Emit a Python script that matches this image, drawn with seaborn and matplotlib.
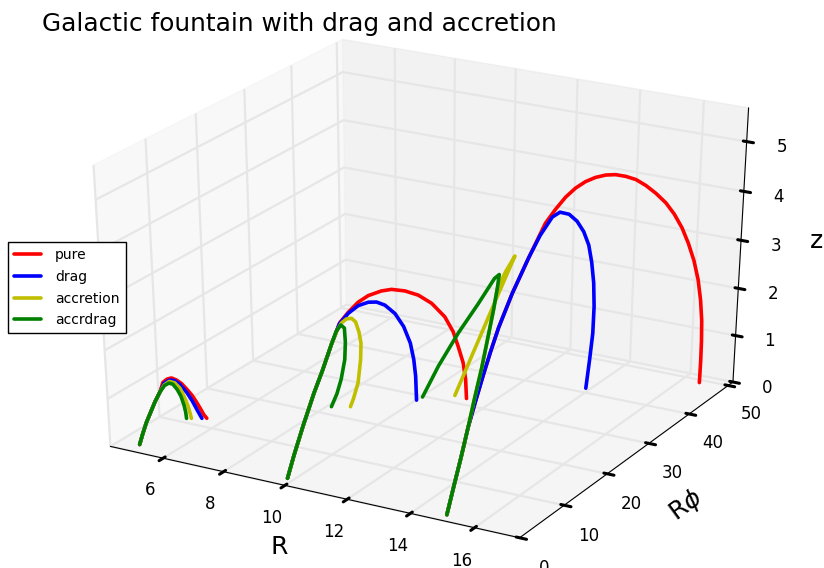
import matplotlib
matplotlib.use("Agg")
import matplotlib.pyplot as plt
import seaborn as sns
import pandas as pd
from mpl_toolkits.mplot3d import Axes3D  # noqa: F401

# ---------------- data (R [kpc], R*phi [kpc], z [kpc]) ----------------
models = ["pure", "drag", "accretion", "accrdrag"]
model_colors = {"pure": (1.0, 0.0, 0.0), "drag": (0.0, 0.0, 1.0),
                "accretion": (0.75, 0.75, 0.0), "accrdrag": (0.0, 0.5, 0.0)}

# launch radius ~5 kpc
rise_05 = [(5.23, 0.00, 0.18), (5.16, 1.10, 0.32), (5.10, 2.29, 0.48), (5.07, 3.33, 0.61),
           (5.04, 4.55, 0.77), (5.04, 5.63, 0.91)]
pure_05 = [(5.00, 6.53, 1.05), (5.07, 6.99, 1.10), (5.15, 7.38, 1.11), (5.24, 7.85, 1.05),
           (5.31, 8.41, 0.95), (5.36, 9.09, 0.80), (5.41, 9.82, 0.63), (5.43, 10.52, 0.45),
           (5.44, 11.24, 0.26), (5.44, 11.89, 0.09), (5.47, 12.26, 0.00)]
drag_05 = [(5.04, 6.53, 1.04), (5.13, 7.12, 1.08), (5.22, 7.58, 1.05), (5.29, 8.15, 0.95),
           (5.35, 9.16, 0.72), (5.36, 10.10, 0.49), (5.35, 11.13, 0.22), (5.35, 11.97, 0.00)]
accr_05 = [(5.06, 6.39, 1.01), (5.14, 6.97, 1.06), (5.23, 7.51, 1.01), (5.28, 8.23, 0.86),
           (5.26, 9.10, 0.63), (5.21, 10.09, 0.36), (5.15, 10.77, 0.17), (5.09, 11.38, 0.00)]
accrdrag_05 = [(5.07, 6.41, 1.00), (5.14, 6.90, 1.03), (5.20, 7.31, 0.99), (5.23, 7.97, 0.84),
               (5.21, 8.76, 0.65), (5.14, 9.71, 0.39), (5.06, 10.45, 0.19), (4.97, 11.10, 0.00)]

# launch radius ~10 kpc
rise_10 = [(10.09, 0.00, 0.16), (9.99, 2.08, 0.49), (9.88, 4.79, 0.91), (9.78, 7.81, 1.38),
           (9.74, 9.97, 1.72), (9.67, 12.39, 2.10)]
pure_10 = [(9.66, 14.30, 2.43), (9.77, 15.38, 2.59), (9.92, 16.54, 2.75), (10.10, 17.53, 2.85),
           (10.35, 18.68, 2.91), (10.55, 19.51, 2.92), (10.82, 20.61, 2.86), (11.08, 21.78, 2.74),
           (11.32, 23.07, 2.53), (11.52, 24.62, 2.19), (11.59, 26.03, 1.81), (11.57, 27.34, 1.42),
           (11.53, 28.77, 0.99), (11.42, 30.15, 0.54), (11.22, 31.80, 0.00)]
drag_10 = [(9.64, 14.33, 2.40), (9.75, 15.54, 2.56), (9.90, 16.67, 2.67), (10.09, 17.61, 2.71),
           (10.24, 18.35, 2.69), (10.39, 19.15, 2.60), (10.54, 20.32, 2.38), (10.61, 21.73, 2.04),
           (10.59, 23.33, 1.60), (10.48, 24.84, 1.15), (10.32, 26.34, 0.69), (10.02, 28.58, 0.00)]
accr_10 = [(9.67, 13.62, 2.31), (9.71, 14.35, 2.43), (9.79, 14.88, 2.49), (9.89, 15.29, 2.49),
           (9.95, 15.74, 2.40), (9.92, 16.65, 2.13), (9.83, 17.64, 1.83), (9.60, 19.02, 1.38),
           (9.21, 20.99, 0.73), (8.83, 22.43, 0.25), (8.61, 23.18, 0.00)]
accrdrag_10 = [(9.65, 13.63, 2.30), (9.70, 14.25, 2.39), (9.75, 14.66, 2.31), (9.59, 15.87, 1.93),
               (9.32, 17.45, 1.44), (8.92, 19.22, 0.87), (8.56, 20.59, 0.43), (8.13, 22.13, 0.00)]

# launch radius ~15 kpc
rise_15 = [(15.14, 0.00, 0.14), (15.03, 2.25, 0.56), (14.92, 4.58, 0.99), (14.80, 6.91, 1.43)]
rise2_15 = [(14.72, 9.08, 1.82), (14.66, 11.19, 2.22), (14.61, 13.12, 2.57), (14.58, 15.00, 2.92),
            (14.60, 17.78, 3.44), (14.68, 20.78, 3.99)]
pure_15 = [(14.78, 23.66, 4.52), (14.91, 24.94, 4.74), (15.05, 26.14, 4.93), (15.21, 27.14, 5.07),
           (15.39, 28.05, 5.17), (15.58, 28.88, 5.23), (15.79, 29.67, 5.26), (15.99, 30.45, 5.25),
           (16.20, 31.23, 5.20), (16.41, 32.04, 5.12), (16.61, 32.92, 4.98), (16.80, 33.88, 4.80),
           (16.98, 34.94, 4.58), (17.12, 35.99, 4.32), (17.23, 37.21, 3.99), (17.29, 38.48, 3.62),
           (17.32, 39.85, 3.20), (17.30, 41.31, 2.73), (17.22, 42.87, 2.21), (17.10, 44.43, 1.68),
           (16.94, 45.97, 1.14), (16.76, 47.52, 0.60), (16.55, 49.20, 0.00)]
drag_15 = [(14.74, 22.80, 4.32), (14.86, 24.61, 4.60), (14.99, 25.37, 4.67), (15.17, 26.14, 4.61),
           (15.30, 27.04, 4.44), (15.38, 28.05, 4.19), (15.39, 29.25, 3.86), (15.31, 30.68, 3.43),
           (15.17, 32.38, 2.90), (14.95, 34.34, 2.28), (14.64, 36.60, 1.55), (14.27, 38.85, 0.81),
           (13.86, 41.26, 0.00)]
accrdrag_15 = [(14.67, 9.23, 1.87), (14.55, 11.56, 2.31), (14.40, 14.01, 2.79), (14.28, 15.95, 3.17),
               (14.16, 17.61, 3.49), (14.07, 18.66, 3.70), (13.86, 19.11, 3.57), (13.05, 21.36, 2.84),
               (12.03, 24.10, 1.95), (10.97, 27.04, 0.95), (10.05, 29.75, 0.00)]
accr_15 = [(14.67, 9.23, 1.87), (14.55, 11.56, 2.31), (14.40, 14.01, 2.79), (14.28, 15.95, 3.17),
           (14.16, 17.61, 3.49), (14.22, 19.03, 3.76), (14.31, 20.36, 4.00), (13.44, 23.26, 3.02),
           (12.58, 26.16, 2.04), (11.70, 29.05, 1.03), (10.81, 31.96, 0.00)]

R_ticks = [6, 8, 10, 12, 14, 16]
Rphi_ticks = [0, 10, 20, 30, 40, 50]
z_ticks = [0, 1, 2, 3, 4, 5]

# ---------------- assemble long-form table ----------------
tracks = {
    ("pure", 5): rise_05 + pure_05, ("drag", 5): rise_05 + drag_05,
    ("accretion", 5): rise_05 + accr_05, ("accrdrag", 5): rise_05 + accrdrag_05,
    ("pure", 10): rise_10 + pure_10, ("drag", 10): rise_10 + drag_10,
    ("accretion", 10): rise_10 + accr_10, ("accrdrag", 10): rise_10 + accrdrag_10,
    ("pure", 15): rise_15 + rise2_15 + pure_15, ("drag", 15): rise_15 + rise2_15 + drag_15,
    ("accretion", 15): rise_15 + accr_15, ("accrdrag", 15): rise_15 + accrdrag_15,
}
rows = []
for (model, r0), pts in tracks.items():
    for i, (R, P, Z) in enumerate(pts):
        rows.append(dict(model=model, R0=r0, step=i, R=R, Rphi=P, z=Z))
df = pd.DataFrame(rows)

# ---------------- style ----------------
sns.set_theme(style="white", color_codes=False, rc={
    "text.color": "black", "axes.labelcolor": "black",
    "xtick.color": "black", "ytick.color": "black",
    "grid.color": "#e6e6e6", "grid.linewidth": 1.6,
    "xtick.major.width": 2.2, "ytick.major.width": 2.2,
    "axes.edgecolor": "black", "axes.linewidth": 0.8,
})
plt.rcParams["font.family"] = ["DejaVu Sans"]

fig = plt.figure(figsize=(8.24, 5.68), dpi=100)
ax = fig.add_axes([0.0369, 0.0095, 0.9380, 0.9748], projection="3d")
ax.apply_aspect = lambda position=None: None   # let the 3D box stretch to the axes rectangle
ax.set_box_aspect((4, 4, 3.775))
ax.set_proj_type("persp", focal_length=1.0)
ax.view_init(elev=28.75, azim=-60.5)

for r0 in (5, 10, 15):
    for model in models:
        d = df[(df.model == model) & (df.R0 == r0)].sort_values("step")
        ax.plot(d.R, d.Rphi, d.z, color=model_colors[model], lw=2.6,
                label=model if r0 == 5 else None)

ax.set_xticks(R_ticks)
ax.set_yticks(Rphi_ticks)
ax.set_zticks(z_ticks)
ax.set_xlim(4.23, 17.387)
ax.set_ylim(0, 51.25)
ax.set_zlim(0, 5.668)
ax.tick_params(labelsize=12)
ax.tick_params(axis="x", pad=5.5)
ax.tick_params(axis="y", pad=6.5)
ax.tick_params(axis="z", pad=6)
ax.set_xlabel("R", fontsize=18, labelpad=11)
ax.set_ylabel(r"R$\phi$", fontsize=18, labelpad=13)
ax.set_zlabel("z", fontsize=18, labelpad=10)

fig.text(42 / 824, 1 - 31 / 568, "Galactic fountain with drag and accretion",
         fontsize=17.8, ha="left", va="baseline")
fig.legend(loc="upper left", bbox_to_anchor=(8 / 824, 1 - 242 / 568), borderaxespad=0,
           fontsize=10, frameon=True, fancybox=False, edgecolor="black", framealpha=1,
           borderpad=0.45, handlelength=1.9, handletextpad=1.05, labelspacing=0.55)

fig.savefig("out.png", dpi=100, facecolor="white")
